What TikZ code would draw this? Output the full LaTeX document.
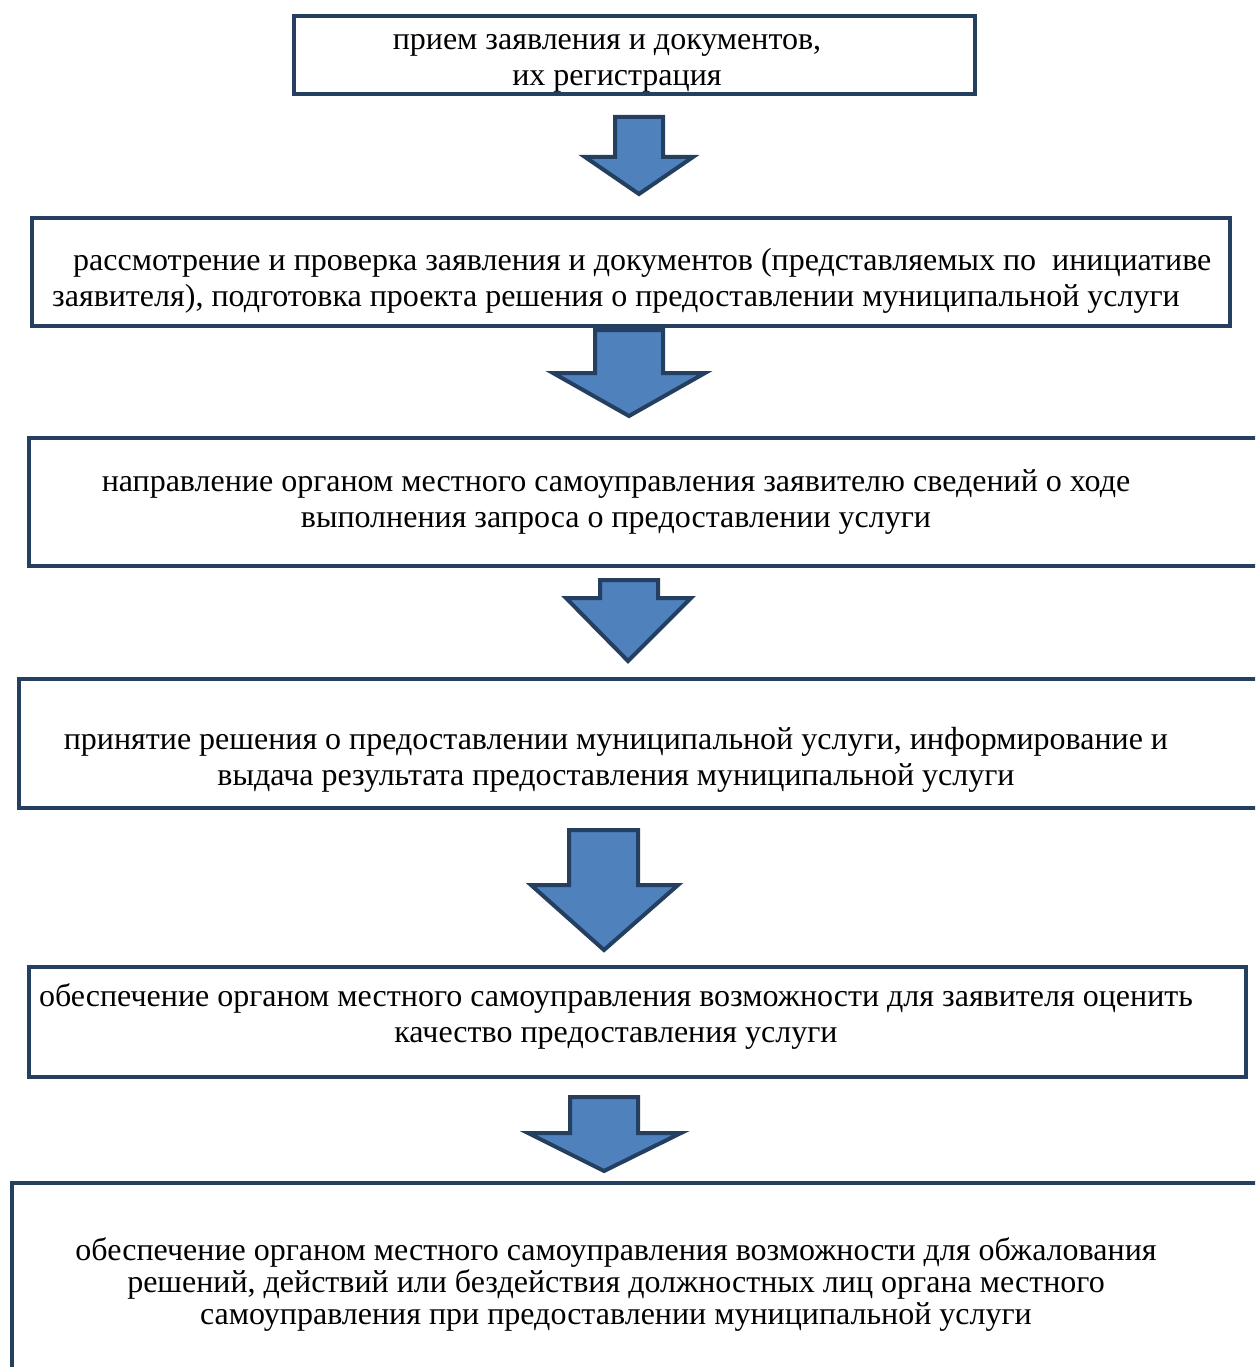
\documentclass[tikz,border=0pt]{standalone}
\usepackage{fontspec}
\setmainfont{Liberation Serif}
\definecolor{frameblue}{HTML}{243F60}
\definecolor{arrowblue}{HTML}{4F81BD}
\tikzset{
  stepbox/.style={draw=frameblue,line width=4pt},
  steptext/.style={align=center,inner sep=0pt,font=\fontsize{32}{36}\selectfont},
  blockarrow/.style={draw=frameblue,fill=arrowblue,line width=4pt}
}
\begin{document}
\begin{tikzpicture}[x=1pt,y=-1pt]
\useasboundingbox (0,0) rectangle (1255,1367);
\clip (0,0) rectangle (1255,1367);
%
\draw[stepbox] (294,16) rectangle (975,94);
\draw[stepbox] (32,218) rectangle (1230,326);
\draw[stepbox] (29,438) rectangle (1275,566);
\draw[stepbox] (19,679) rectangle (1275,808);
\draw[stepbox] (29,967) rectangle (1246,1077);
\draw[stepbox] (12,1183) rectangle (1275,1390);
%
\node[steptext] (t1) at (607,63) {прием заявления и документов,\\ \hspace*{20pt}их регистрация};
\node[steptext,align=left,anchor=west] (t2) at (52,281) {\hspace*{21pt}рассмотрение и проверка заявления и документов (представляемых по\ \ инициативе\\ заявителя), подготовка проекта решения о предоставлении муниципальной услуги};
\node[steptext] (t3) at (616,502) {направление органом местного самоуправления заявителю сведений о ходе\\ выполнения запроса о предоставлении услуги};
\node[steptext] (t4) at (616,760) {принятие решения о предоставлении муниципальной услуги, информирование и\\ выдача результата предоставления муниципальной услуги};
\node[steptext] (t5) at (616,1016) {обеспечение органом местного самоуправления возможности для заявителя оценить\\ качество предоставления услуги};
\node[steptext,font=\fontsize{32}{32}\selectfont] (t6) at (616,1284) {обеспечение органом местного самоуправления возможности для обжалования\\ решений, действий или бездействия должностных лиц органа местного\\ самоуправления при предоставлении муниципальной услуги};
%
\draw[blockarrow] (615,117) -- (663,117) -- (663,157) -- (693,157) -- (639,194) -- (585,157) -- (615,157) -- cycle;
\draw[blockarrow] (595,330) -- (663,330) -- (663,373) -- (705,373) -- (629,416) -- (553,373) -- (595,373) -- cycle;
\draw[blockarrow] (600,580) -- (658,580) -- (658,598) -- (691,598) -- (628,661) -- (566,598) -- (600,598) -- cycle;
\draw[blockarrow] (569,830) -- (638,830) -- (638,885) -- (678,885) -- (604,950) -- (531,885) -- (569,885) -- cycle;
\draw[blockarrow] (570,1097) -- (638,1097) -- (638,1133) -- (681,1133) -- (604,1171) -- (528,1133) -- (570,1133) -- cycle;
%
\end{tikzpicture}
\end{document}
